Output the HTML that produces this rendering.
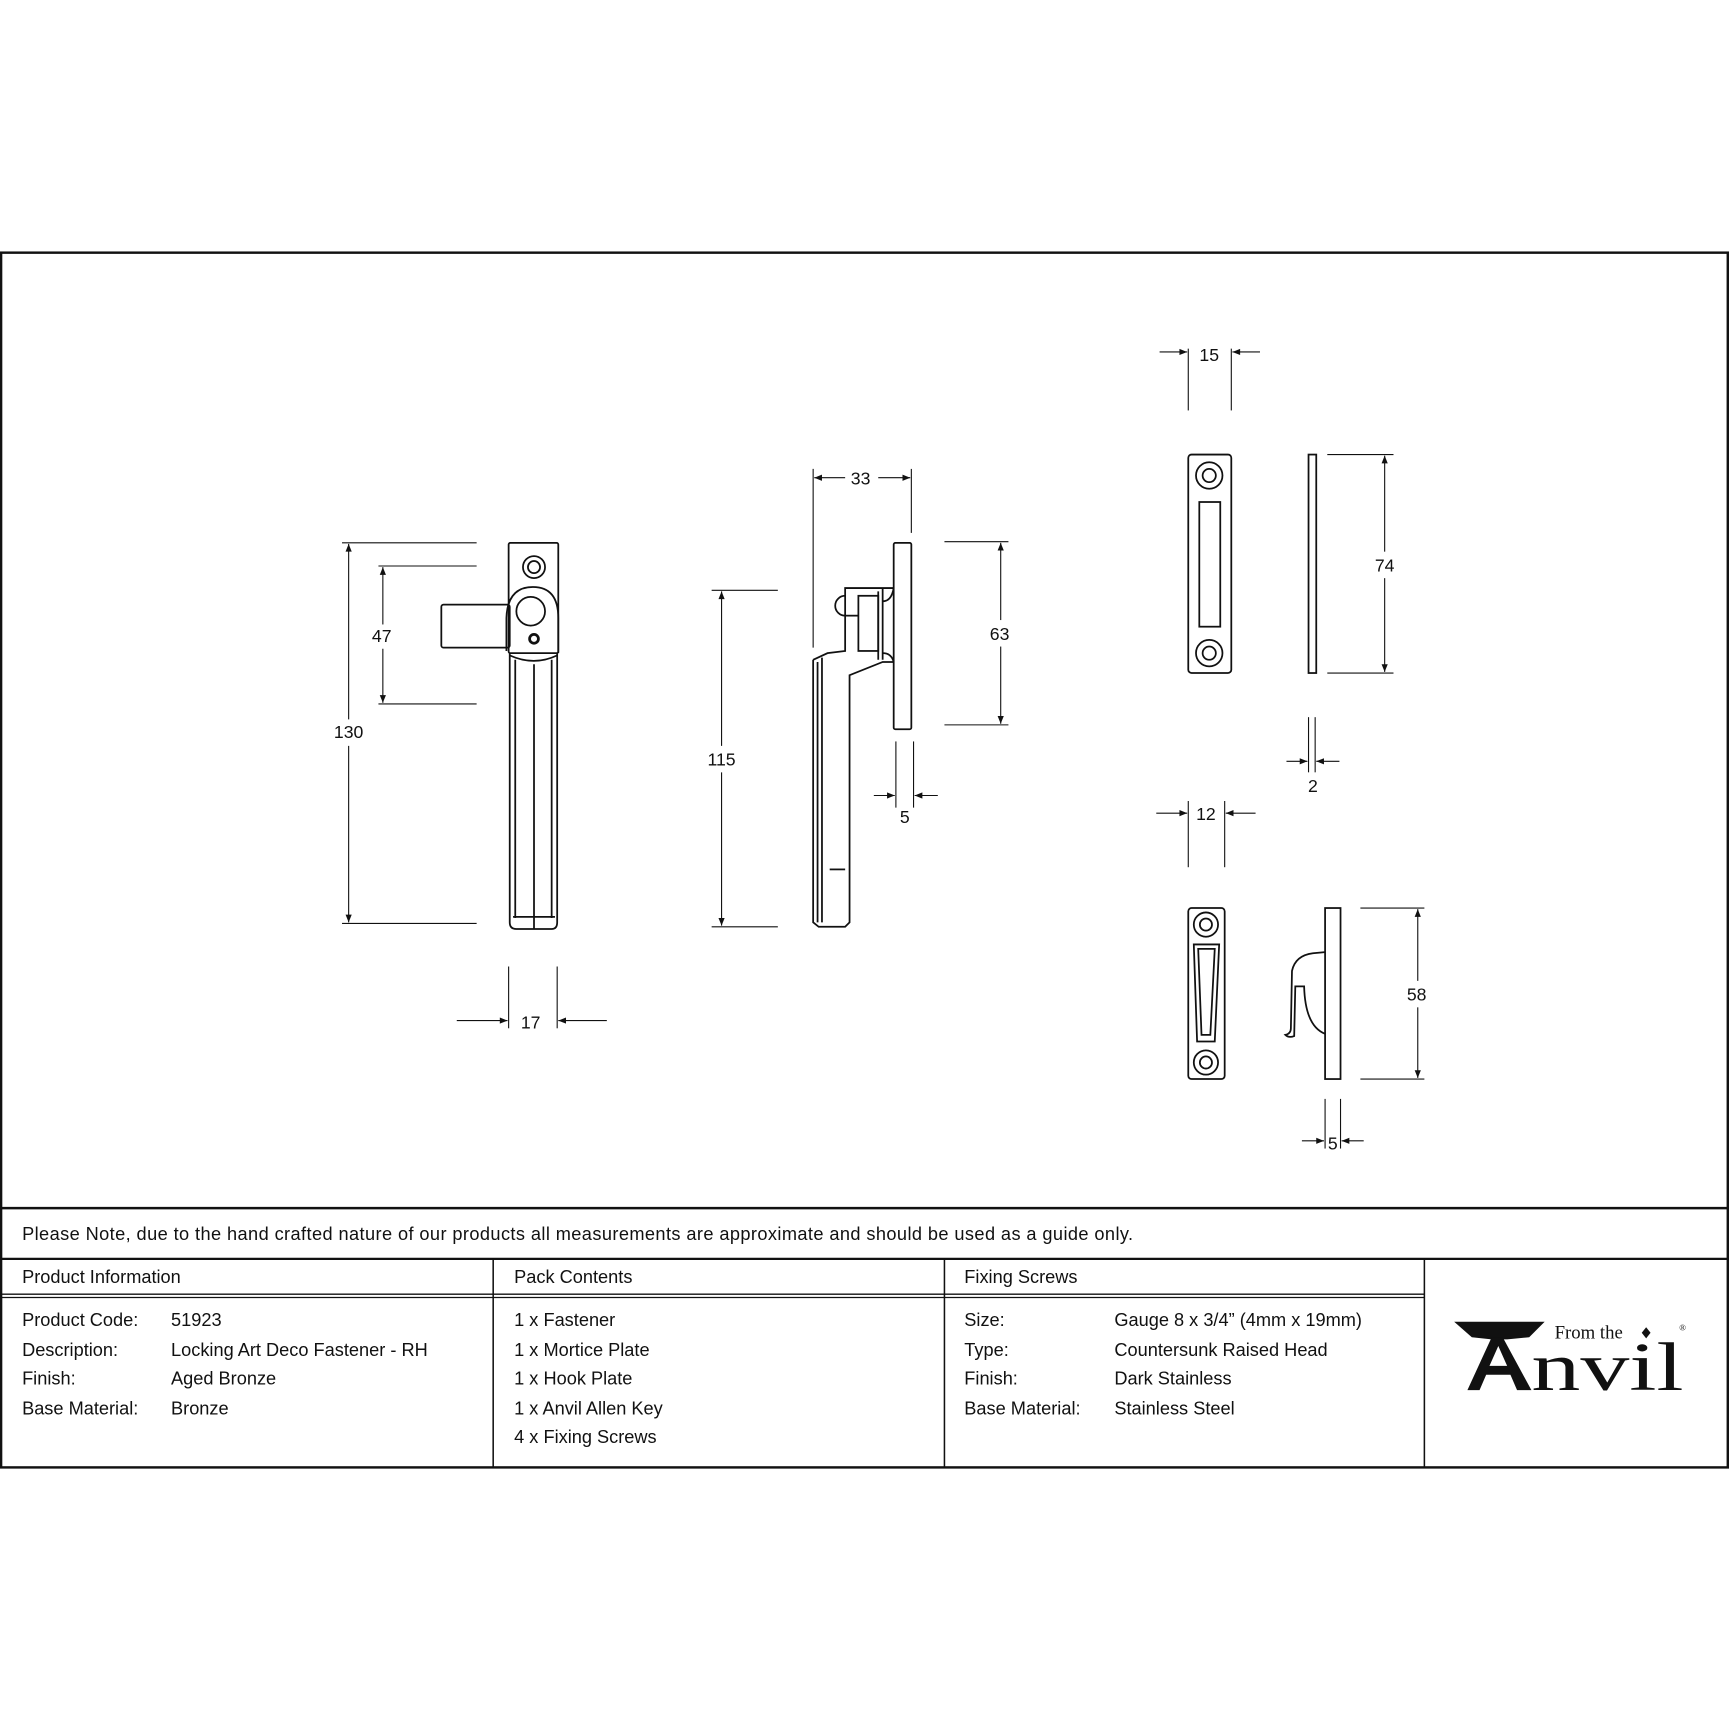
<!DOCTYPE html>
<html><head><meta charset="utf-8"><style>
html,body{margin:0;padding:0;background:#fff}
svg{display:block}
text{font-family:"Liberation Sans Narrow","Liberation Sans",sans-serif;fill:#111}
</style></head><body>
<svg width="1730" height="1730" viewBox="0 0 1568 1568" xmlns="http://www.w3.org/2000/svg">
<defs>
<marker id="a" viewBox="0 0 10 10" refX="10" refY="5" markerWidth="9" markerHeight="7" orient="auto-start-reverse" markerUnits="userSpaceOnUse"><path d="M0,1 L10,5 L0,9 z" fill="#111"/></marker>
</defs>
<rect width="1568" height="1568" fill="#fff"/>
<g fill="none" stroke="#111">
<rect x="1" y="229" width="1565" height="1101" stroke-width="2.2"/>
<line x1="1" y1="1095" x2="1566" y2="1095" stroke-width="2.2"/>
<line x1="1" y1="1141" x2="1566" y2="1141" stroke-width="2"/>
<line x1="1" y1="1173" x2="1291" y2="1173" stroke-width="1.2"/>
<line x1="1" y1="1176" x2="1291" y2="1176" stroke-width="1.2"/>
<line x1="447" y1="1141" x2="447" y2="1330" stroke-width="1.4"/>
<line x1="856" y1="1141" x2="856" y2="1330" stroke-width="1.4"/>
<line x1="1291" y1="1141" x2="1291" y2="1330" stroke-width="1.4"/>
</g>
<g font-size="16.5">
<text x="20" y="1124" textLength="1007">Please Note, due to the hand crafted nature of our products all measurements are approximate and should be used as a guide only.</text>
<text x="20" y="1163">Product Information</text>
<text x="466" y="1163">Pack Contents</text>
<text x="874" y="1163">Fixing Screws</text>
<text x="20" y="1202">Product Code:</text><text x="155" y="1202">51923</text>
<text x="20" y="1229">Description:</text><text x="155" y="1229">Locking Art Deco Fastener - RH</text>
<text x="20" y="1255">Finish:</text><text x="155" y="1255">Aged Bronze</text>
<text x="20" y="1282">Base Material:</text><text x="155" y="1282">Bronze</text>
<text x="466" y="1202">1 x Fastener</text>
<text x="466" y="1229">1 x Mortice Plate</text>
<text x="466" y="1255">1 x Hook Plate</text>
<text x="466" y="1282">1 x Anvil Allen Key</text>
<text x="466" y="1308">4 x Fixing Screws</text>
<text x="874" y="1202">Size:</text><text x="1010" y="1202">Gauge 8 x 3/4” (4mm x 19mm)</text>
<text x="874" y="1229">Type:</text><text x="1010" y="1229">Countersunk Raised Head</text>
<text x="874" y="1255">Finish:</text><text x="1010" y="1255">Dark Stainless</text>
<text x="874" y="1282">Base Material:</text><text x="1010" y="1282">Stainless Steel</text>
</g>
<!-- logo -->
<g>
<path d="M1318,1198 L1400,1198 L1386,1212 L1366,1214 L1352,1214 L1334,1212 Z" fill="#111"/>
<path d="M1352,1212 L1330,1260 L1341,1260 L1347,1246 L1369,1246 L1375,1260 L1388,1260 L1362,1212 Z M1350,1238 L1358,1220 L1366,1238 Z" fill="#111"/>
<text x="1388" y="1260" font-size="62" textLength="138" lengthAdjust="spacingAndGlyphs" style="font-family:'Liberation Serif',serif">nvil</text>
<text x="1409" y="1213" font-size="17" style="font-family:'Liberation Serif',serif">From the</text>
<path d="M1492,1203 L1496,1208 L1492,1213 L1488,1208 Z" fill="#111"/>
<text x="1522" y="1206" font-size="8" style="font-family:'Liberation Serif',serif">®</text>
</g>
<!-- drawings -->
<g fill="none" stroke="#111" stroke-width="1.6">
<rect x="400" y="548" width="62" height="39" rx="2"/>
<rect x="461" y="492" width="45" height="100" rx="1.5"/>
<circle cx="484" cy="514" r="10"/><circle cx="484" cy="514" r="5.5"/>
<path d="M459,590 L459,560 Q460,532 483,532 Q506,532 506,560 L506,592"/>
<circle cx="481" cy="554" r="13"/>
<circle cx="484" cy="579" r="4" stroke-width="2.5"/>
<path d="M462,592 L462,836 Q462,842 468,842 L500,842 Q505,842 505,836 L505,592"/>
<path d="M462,594 Q484,604 505,594"/>
<line x1="467" y1="598" x2="467" y2="832"/>
<line x1="500" y1="598" x2="500" y2="832"/>
<line x1="484" y1="602" x2="484" y2="842"/>
<line x1="465" y1="831" x2="503" y2="831"/>
<rect x="810" y="492" width="16" height="169" rx="1.5"/>
<path d="M737,598 L737,836 L742,840 L766,840 L770,836 L770,612 L800,600 L810,600"/>
<path d="M737,598 L750,592 L766,590 L766,533 L810,533"/>
<line x1="741" y1="600" x2="741" y2="836"/>
<line x1="745" y1="596" x2="745" y2="836"/>
<line x1="752" y1="788" x2="766" y2="788"/>
<rect x="778" y="540" width="18" height="50"/>
<line x1="796" y1="536" x2="796" y2="598"/>
<line x1="800" y1="533" x2="800" y2="598"/>
<path d="M810,533 Q808,545 800,545 M810,600 Q808,592 800,592"/>
<path d="M766,540 A9,9 0 0 0 766,558"/>
<line x1="766" y1="558" x2="778" y2="558"/>
<rect x="1077" y="412" width="39" height="198" rx="3"/>
<circle cx="1096" cy="431" r="12"/><circle cx="1096" cy="431" r="6"/>
<circle cx="1096" cy="592" r="12"/><circle cx="1096" cy="592" r="6"/>
<rect x="1087" y="455" width="19" height="113"/>
<rect x="1186" y="412" width="7" height="198"/>
<rect x="1077" y="823" width="33" height="155" rx="3"/>
<circle cx="1093" cy="838" r="11"/><circle cx="1093" cy="838" r="5.5"/>
<circle cx="1093" cy="963" r="11"/><circle cx="1093" cy="963" r="5.5"/>
<path d="M1082,856 L1105,856 L1101,944 L1085,944 Z"/>
<path d="M1086,860 L1101,860 L1097,938 L1089,938 Z"/>
<rect x="1201" y="823" width="14" height="155"/>
<path d="M1201,863 L1190,864 Q1174,866 1171,880 L1170,932 Q1170,937 1165,938 Q1168,941 1173,939 L1174,894 L1182,894 Q1183,930 1201,937"/>
</g>
<g stroke="#111" stroke-width="1">
<line x1="310" y1="492" x2="432" y2="492"/><line x1="310" y1="837" x2="432" y2="837"/>
<line x1="316" y1="493" x2="316" y2="652" marker-start="url(#a)"/><line x1="316" y1="676" x2="316" y2="836" marker-end="url(#a)"/>
<line x1="343" y1="513" x2="432" y2="513"/><line x1="343" y1="638" x2="432" y2="638"/>
<line x1="347" y1="514" x2="347" y2="566" marker-start="url(#a)"/><line x1="347" y1="588" x2="347" y2="637" marker-end="url(#a)"/>
<line x1="461" y1="876" x2="461" y2="932"/><line x1="505" y1="876" x2="505" y2="932"/>
<line x1="414" y1="925" x2="460" y2="925" marker-end="url(#a)"/><line x1="550" y1="925" x2="506" y2="925" marker-end="url(#a)"/>
<line x1="737" y1="425" x2="737" y2="587"/><line x1="826" y1="425" x2="826" y2="483"/>
<line x1="766" y1="433" x2="738" y2="433" marker-end="url(#a)"/><line x1="796" y1="433" x2="825" y2="433" marker-end="url(#a)"/>
<line x1="645" y1="535" x2="705" y2="535"/><line x1="645" y1="840" x2="705" y2="840"/>
<line x1="654" y1="536" x2="654" y2="676" marker-start="url(#a)"/><line x1="654" y1="700" x2="654" y2="839" marker-end="url(#a)"/>
<line x1="856" y1="491" x2="914" y2="491"/><line x1="856" y1="657" x2="914" y2="657"/>
<line x1="907" y1="492" x2="907" y2="562" marker-start="url(#a)"/><line x1="907" y1="586" x2="907" y2="656" marker-end="url(#a)"/>
<line x1="812" y1="672" x2="812" y2="732"/><line x1="828" y1="672" x2="828" y2="732"/>
<line x1="792" y1="721" x2="811" y2="721" marker-end="url(#a)"/><line x1="850" y1="721" x2="829" y2="721" marker-end="url(#a)"/>
<line x1="1077" y1="316" x2="1077" y2="372"/><line x1="1116" y1="316" x2="1116" y2="372"/>
<line x1="1051" y1="319" x2="1076" y2="319" marker-end="url(#a)"/><line x1="1142" y1="319" x2="1117" y2="319" marker-end="url(#a)"/>
<line x1="1203" y1="412" x2="1263" y2="412"/><line x1="1203" y1="610" x2="1263" y2="610"/>
<line x1="1255" y1="413" x2="1255" y2="500" marker-start="url(#a)"/><line x1="1255" y1="524" x2="1255" y2="609" marker-end="url(#a)"/>
<line x1="1186" y1="650" x2="1186" y2="700"/><line x1="1192" y1="650" x2="1192" y2="700"/>
<line x1="1166" y1="690" x2="1185" y2="690" marker-end="url(#a)"/><line x1="1214" y1="690" x2="1193" y2="690" marker-end="url(#a)"/>
<line x1="1077" y1="726" x2="1077" y2="786"/><line x1="1110" y1="726" x2="1110" y2="786"/>
<line x1="1048" y1="737" x2="1076" y2="737" marker-end="url(#a)"/><line x1="1138" y1="737" x2="1111" y2="737" marker-end="url(#a)"/>
<line x1="1233" y1="823" x2="1291" y2="823"/><line x1="1233" y1="978" x2="1291" y2="978"/>
<line x1="1285" y1="824" x2="1285" y2="889" marker-start="url(#a)"/><line x1="1285" y1="913" x2="1285" y2="977" marker-end="url(#a)"/>
<line x1="1201" y1="996" x2="1201" y2="1041"/><line x1="1215" y1="996" x2="1215" y2="1041"/>
<line x1="1180" y1="1034" x2="1200" y2="1034" marker-end="url(#a)"/><line x1="1236" y1="1034" x2="1216" y2="1034" marker-end="url(#a)"/>
</g>
<g font-size="16" text-anchor="middle" style="font-family:'Liberation Sans',sans-serif">
<text x="316" y="669">130</text>
<text x="346" y="582">47</text>
<text x="481" y="932">17</text>
<text x="780" y="439">33</text>
<text x="654" y="694">115</text>
<text x="906" y="580">63</text>
<text x="820" y="746">5</text>
<text x="1096" y="327">15</text>
<text x="1255" y="518">74</text>
<text x="1190" y="718">2</text>
<text x="1093" y="743">12</text>
<text x="1284" y="907">58</text>
<text x="1208" y="1042">5</text>
</g>
</svg>
</body></html>
